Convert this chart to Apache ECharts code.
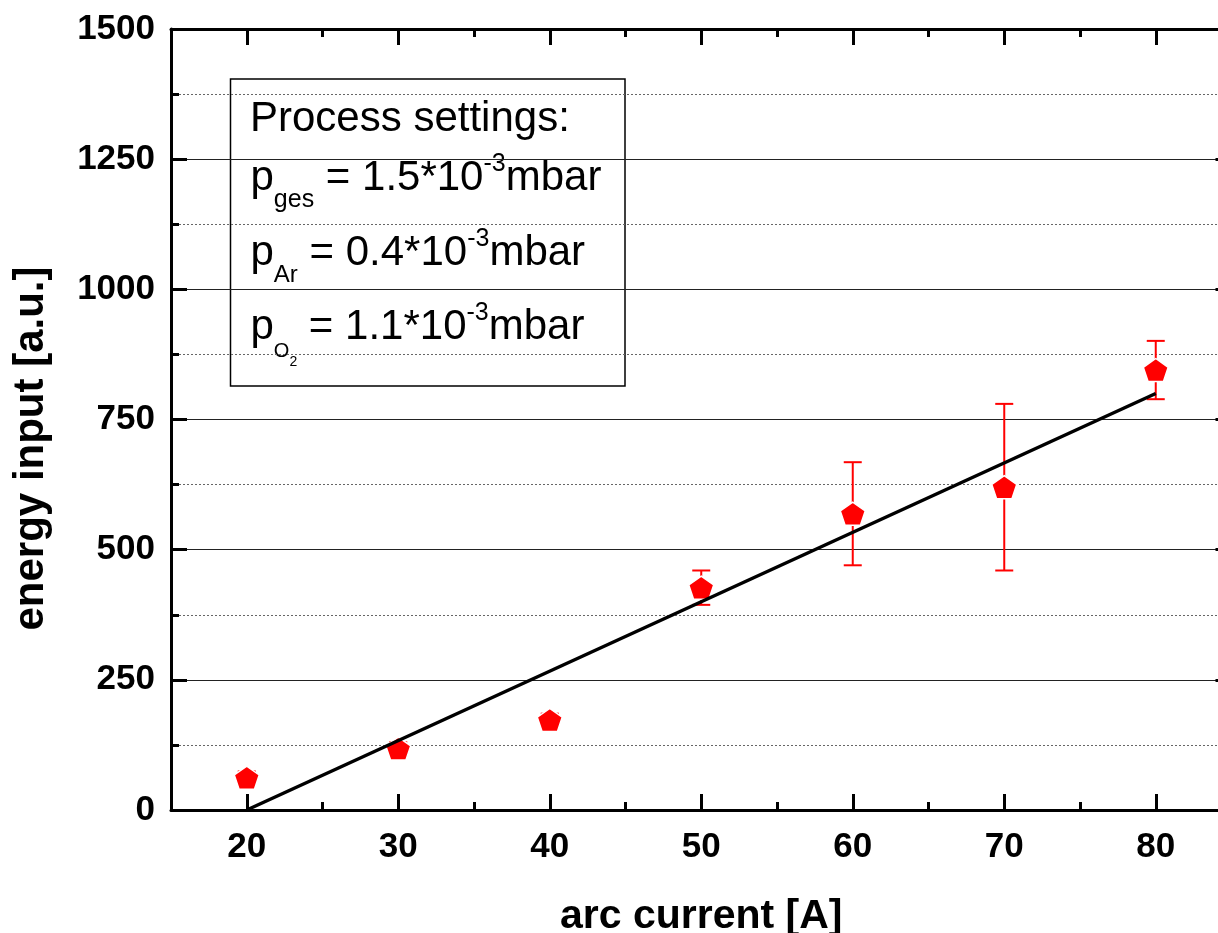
<!DOCTYPE html>
<html>
<head>
<meta charset="utf-8">
<script src="https://cdn.jsdelivr.net/npm/echarts@6/dist/echarts.min.js"></script>
<style>
  html, body { margin: 0; padding: 0; background: #fff; }
  #chart { width: 1218px; height: 933px; }
</style>
</head>
<body>
<div id="chart"></div>
<script>
// Energy input versus arc current, with error bars and a linear fit
const arcCurrent = [20, 30, 40, 50, 60, 70, 80];
const energyInput = [62, 118, 173, 427, 569, 620, 845];
const energyError = [12, 12, 12, 33, 99, 160, 56];
const fitLine = [[20, 0], [80, 800]];
const xMajorTicks = [20, 30, 40, 50, 60, 70, 80];
const xMinorTicks = [25, 35, 45, 55, 65, 75];
const yTickStep = 250;

const FONT = '"Liberation Sans", Arial, Helvetica, sans-serif';

const points = arcCurrent.map((x, i) => [x, energyInput[i]]);
const errorData = arcCurrent.map((x, i) => [x, energyInput[i], energyError[i]]);

// pentagon marker
const pentagon = 'path://M0,-100L95.1,-30.9L58.8,80.9L-58.8,80.9L-95.1,-30.9Z';

// --- annotation box text, laid out piece by piece (sub/superscripts) ---
const measureCtx = document.createElement('canvas').getContext('2d');
function fontStr(fs) { return fs + 'px ' + FONT; }
function textRun(pieces, startX, baseline) {
  const els = [];
  let x = startX;
  pieces.forEach(p => {
    x += (p.dx || 0);
    els.push({
      type: 'text',
      x: x,
      y: baseline + (p.dy || 0) - 0.33 * p.fs,
      style: {
        text: p.t,
        font: fontStr(p.fs),
        fill: '#000',
        align: 'left',
        verticalAlign: 'middle'
      }
    });
    measureCtx.font = fontStr(p.fs);
    x += measureCtx.measureText(p.t).width;
  });
  return els;
}

const boxText = [].concat(
  textRun([{ t: 'Process settings:', fs: 42 }], 250, 133),
  textRun([
    { t: 'p', fs: 42 },
    { t: 'ges', fs: 25, dy: 16 },
    { t: ' = 1.5*10', fs: 42 },
    { t: '-3', fs: 25, dy: -20 },
    { t: 'mbar', fs: 42 }
  ], 250.5, 192),
  textRun([
    { t: 'p', fs: 42 },
    { t: 'Ar', fs: 24, dy: 16 },
    { t: ' = 0.4*10', fs: 42 },
    { t: '-3', fs: 25, dy: -20 },
    { t: 'mbar', fs: 42 }
  ], 250.5, 267),
  textRun([
    { t: 'p', fs: 42 },
    { t: 'O', fs: 20, dy: 17 },
    { t: '2', fs: 14, dy: 26 },
    { t: ' = 1.1*10', fs: 42 },
    { t: '-3', fs: 25, dy: -20 },
    { t: 'mbar', fs: 42 }
  ], 250.5, 341)
);

const axisLineStyle = { color: '#000', width: 3 };
const tickStyle = { color: '#000', width: 3 };
const tickLabel = { color: '#000', fontSize: 35, fontWeight: 'bold', fontFamily: FONT };
const nameStyle = { color: '#000', fontWeight: 'bold', fontFamily: FONT };

function xAxisDef(position, ticks, len, withLine, withLabels) {
  return {
    type: 'value',
    position: position,
    min: 15,
    max: 85,
    interval: 5,
    axisLine: { show: withLine, onZero: false, lineStyle: axisLineStyle },
    axisTick: { show: true, inside: true, length: len, customValues: ticks, lineStyle: tickStyle },
    axisLabel: withLabels
      ? Object.assign({ show: true, margin: 20, customValues: ticks }, tickLabel)
      : { show: false },
    splitLine: { show: false }
  };
}

const bottomMain = xAxisDef('bottom', xMajorTicks, 16, true, true);
bottomMain.name = 'arc current [A]';
bottomMain.nameLocation = 'middle';
bottomMain.nameGap = 86;
bottomMain.nameTextStyle = Object.assign({ fontSize: 41 }, nameStyle);

const option = {
  backgroundColor: '#fff',
  animation: false,
  grid: {
    left: 171, top: 29, right: -13.5, bottom: 123,
    containLabel: false,
    outerBoundsMode: 'none'
  },
  xAxis: [
    bottomMain,
    xAxisDef('bottom', xMinorTicks, 8, false, false),
    xAxisDef('top', xMajorTicks, 16, true, false),
    xAxisDef('top', xMinorTicks, 8, false, false)
  ],
  yAxis: [
    {
      type: 'value',
      position: 'left',
      min: 0,
      max: 1500,
      interval: yTickStep,
      name: 'energy input [a.u.]',
      nameLocation: 'middle',
      nameGap: 119,
      nameTextStyle: Object.assign({ fontSize: 42, padding: [0, 58, 0, 0] }, nameStyle),
      axisLine: { show: true, onZero: false, lineStyle: axisLineStyle },
      axisTick: { show: true, inside: true, length: 16, lineStyle: tickStyle },
      minorTick: { show: true, splitNumber: 2, length: 8, lineStyle: tickStyle },
      axisLabel: Object.assign({ show: true, margin: 16, formatter: v => String(v) }, tickLabel),
      splitLine: { show: true, lineStyle: { color: '#222', width: 1 } },
      minorSplitLine: { show: true, lineStyle: { color: '#666', width: 1, type: [2, 2] } }
    },
    {
      type: 'value',
      position: 'right',
      min: 0,
      max: 1500,
      interval: yTickStep,
      axisLine: { show: true, onZero: false, lineStyle: axisLineStyle },
      axisTick: { show: true, inside: true, length: 16, lineStyle: tickStyle },
      minorTick: { show: true, splitNumber: 2, length: 8, lineStyle: tickStyle },
      axisLabel: { show: false },
      splitLine: { show: false }
    }
  ],
  series: [
    {
      type: 'custom',
      name: 'error',
      xAxisIndex: 0,
      yAxisIndex: 0,
      z: 2,
      data: errorData,
      encode: { x: 0, y: 1 },
      renderItem: function (params, api) {
        const x = api.value(0), y = api.value(1), e = api.value(2);
        const top = api.coord([x, y + e]);
        const bot = api.coord([x, y - e]);
        const hw = 9;
        const st = { stroke: '#ff0000', lineWidth: 2 };
        return {
          type: 'group',
          children: [
            { type: 'line', shape: { x1: top[0], y1: top[1], x2: bot[0], y2: bot[1] }, style: st },
            { type: 'line', shape: { x1: top[0] - hw, y1: top[1], x2: top[0] + hw, y2: top[1] }, style: st },
            { type: 'line', shape: { x1: bot[0] - hw, y1: bot[1], x2: bot[0] + hw, y2: bot[1] }, style: st }
          ]
        };
      }
    },
    {
      type: 'scatter',
      name: 'energy input',
      xAxisIndex: 0,
      yAxisIndex: 0,
      z: 3,
      symbol: pentagon,
      symbolSize: [25, 23],
      itemStyle: { color: '#ff0000', borderColor: '#fff', borderWidth: 1.5, opacity: 1 },
      data: points
    },
    {
      type: 'line',
      name: 'linear fit',
      xAxisIndex: 0,
      yAxisIndex: 0,
      z: 4,
      symbol: 'none',
      lineStyle: { color: '#000', width: 3.5 },
      data: fitLine
    }
  ],
  graphic: [
    {
      type: 'group',
      z: 10,
      children: [
        {
          type: 'rect',
          shape: { x: 230.5, y: 79, width: 394.5, height: 307 },
          style: { fill: '#fff', stroke: '#000', lineWidth: 1.5 }
        }
      ].concat(boxText)
    }
  ]
};

const chart = echarts.init(document.getElementById('chart'), null, { renderer: 'canvas' });
chart.setOption(option);
</script>
</body>
</html>
